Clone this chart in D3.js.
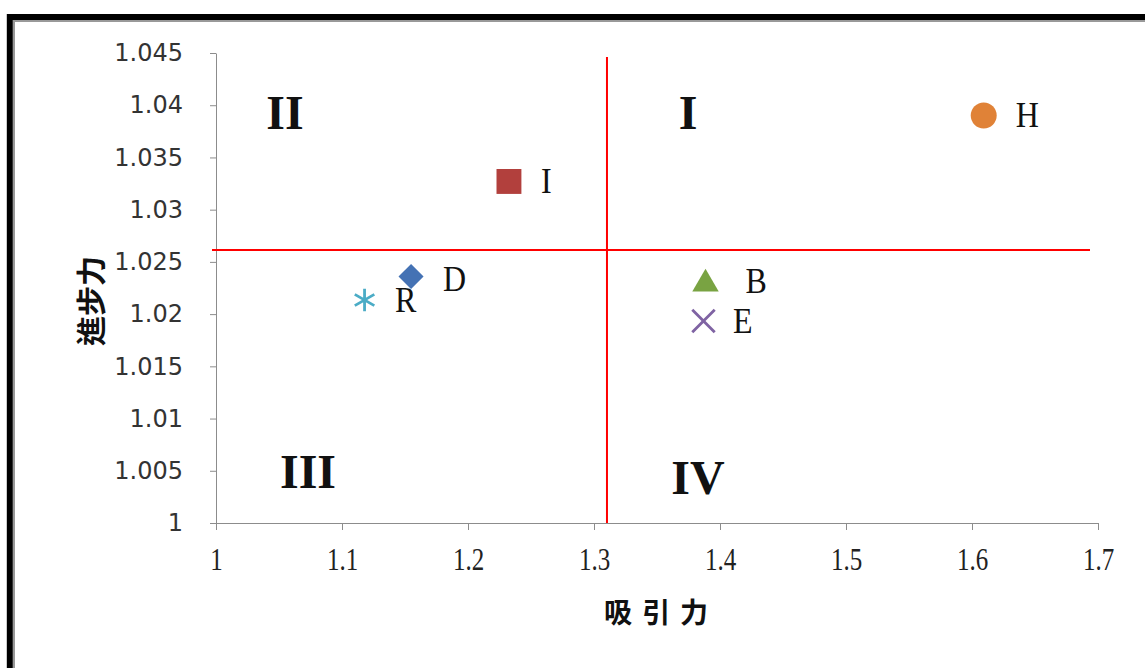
<!DOCTYPE html>
<html>
<head>
<meta charset="utf-8">
<script src="https://cdn.jsdelivr.net/npm/d3@7"></script>
<style>
  html, body { margin: 0; padding: 0; background: #fff; }
  svg { display: block; }
</style>
</head>
<body>
<div id="chart"></div>
<script>
// data
const names = ["H", "I", "D", "R", "B", "E"];
const attract = [1.6093, 1.2325, 1.1548, 1.1179, 1.3885, 1.3869];
const progress = [1.03902, 1.0327, 1.0236, 1.02135, 1.02327, 1.01934];
const colors = ["#E08237", "#B2403D", "#4472B4", "#4BACC6", "#79A342", "#7F63A3"];
const shapes = ["circle", "square", "diamond", "asterisk", "triangle", "cross"];
const xTicks = [1, 1.1, 1.2, 1.3, 1.4, 1.5, 1.6, 1.7];
const yTicks = [1, 1.005, 1.01, 1.015, 1.02, 1.025, 1.03, 1.035, 1.04, 1.045];
const splitX = 1.3103, splitY = 1.02614;
const quadrants = ["I", "II", "III", "IV"];
const quadPos = [[1.3746, 1.03926], [1.0548, 1.03926], [1.073, 1.00488], [1.3825, 1.00431]];

const W = 1145, H = 668;
const svg = d3.select("#chart").append("svg").attr("width", W).attr("height", H);

// frame
svg.append("rect").attr("x", 9.8).attr("y", 17).attr("width", W + 20).attr("height", H + 20)
  .attr("fill", "none").attr("stroke", "#000").attr("stroke-width", 6);
svg.append("rect").attr("x", 14).attr("y", 21).attr("width", W + 20).attr("height", H + 20)
  .attr("fill", "none").attr("stroke", "#999").attr("stroke-width", 2);

const x = d3.scaleLinear().domain([1, 1.7]).range([216, 1098]);
const y = d3.scaleLinear().domain([1, 1.045]).range([523, 53]);

// y axis
const ya = svg.append("g").attr("transform", "translate(216,0)")
  .call(d3.axisLeft(y).tickValues(yTicks).tickSize(6).tickSizeOuter(0).tickPadding(27)
    .tickFormat(d => String(+d.toFixed(3))));
ya.select(".domain").attr("stroke", "#8c8c8c");
ya.selectAll(".tick line").attr("stroke", "#8c8c8c");
ya.selectAll("text").attr("font-family", "DejaVu Sans, sans-serif").attr("font-size", 24).attr("fill", "#333");

// x axis
const xa = svg.append("g").attr("transform", "translate(0,523)")
  .call(d3.axisBottom(x).tickValues(xTicks).tickSize(7).tickSizeOuter(0)
    .tickFormat(d => String(+d.toFixed(1))));
xa.select(".domain").attr("stroke", "#8c8c8c");
xa.selectAll(".tick line").attr("stroke", "#8c8c8c");
xa.selectAll("text").attr("y", 0).attr("dy", 0)
  .attr("transform", "translate(0,47) scale(1,1.3)")
  .attr("font-family", "Liberation Serif, serif").attr("font-size", 25).attr("fill", "#222");

// quadrant lines
svg.append("line").attr("x1", x(splitX)).attr("x2", x(splitX)).attr("y1", 57).attr("y2", y(1))
  .attr("stroke", "#f00").attr("stroke-width", 2);
svg.append("line").attr("x1", 212).attr("x2", 1090).attr("y1", y(splitY)).attr("y2", y(splitY))
  .attr("stroke", "#f00").attr("stroke-width", 2);

// quadrant labels
svg.append("g").selectAll("text").data(quadrants).join("text")
  .attr("x", (d, i) => x(quadPos[i][0])).attr("y", (d, i) => y(quadPos[i][1]) + 16)
  .attr("text-anchor", "middle")
  .attr("font-family", "Liberation Serif, serif").attr("font-weight", "bold").attr("font-size", 48)
  .attr("fill", "#111").text(d => d);

// points
const symMap = { circle: d3.symbolCircle, square: d3.symbolSquare, diamond: d3.symbolDiamond2,
  triangle: d3.symbolTriangle2, cross: d3.symbolX, asterisk: d3.symbolAsterisk };
const sizeMap = { circle: 530, square: 620, diamond: 400, triangle: 500, cross: 330, asterisk: 360 };
const lined = s => s === "cross" || s === "asterisk";
svg.append("g").selectAll("path").data(names).join("path")
  .attr("transform", (d, i) => `translate(${x(attract[i])},${y(progress[i]) + (shapes[i] === "triangle" ? 4 : 0)})`)
  .attr("d", (d, i) => d3.symbol(symMap[shapes[i]], sizeMap[shapes[i]])())
  .attr("fill", (d, i) => lined(shapes[i]) ? "none" : colors[i])
  .attr("stroke", (d, i) => lined(shapes[i]) ? colors[i] : "none")
  .attr("stroke-width", 2.8);

// point labels
const labelOffset = [[32, 0], [32, 0], [32, 2], [30.5, 0], [40, 1], [29.5, 0]];
svg.append("g").selectAll("text").data(names).join("text")
  .attr("transform", (d, i) => `translate(${x(attract[i]) + labelOffset[i][0]},${y(progress[i]) + labelOffset[i][1] + 12}) scale(1,1.13)`)
  .attr("font-family", "Liberation Serif, serif").attr("font-size", 32).attr("fill", "#111")
  .text(d => d);

// axis titles
svg.append("text").attr("x", 661).attr("y", 611).attr("text-anchor", "middle").attr("dominant-baseline", "central")
  .attr("font-family", "Noto Sans CJK TC, sans-serif").attr("font-weight", "bold").attr("font-size", 28)
  .attr("letter-spacing", 10).attr("fill", "#111").text("吸引力");
svg.append("text").attr("transform", "translate(89,301) rotate(-90)").attr("text-anchor", "middle")
  .attr("dominant-baseline", "central")
  .attr("font-family", "Noto Sans CJK TC, sans-serif").attr("font-weight", "bold").attr("font-size", 30)
  .attr("fill", "#111").text("進步力");
</script>
</body>
</html>
